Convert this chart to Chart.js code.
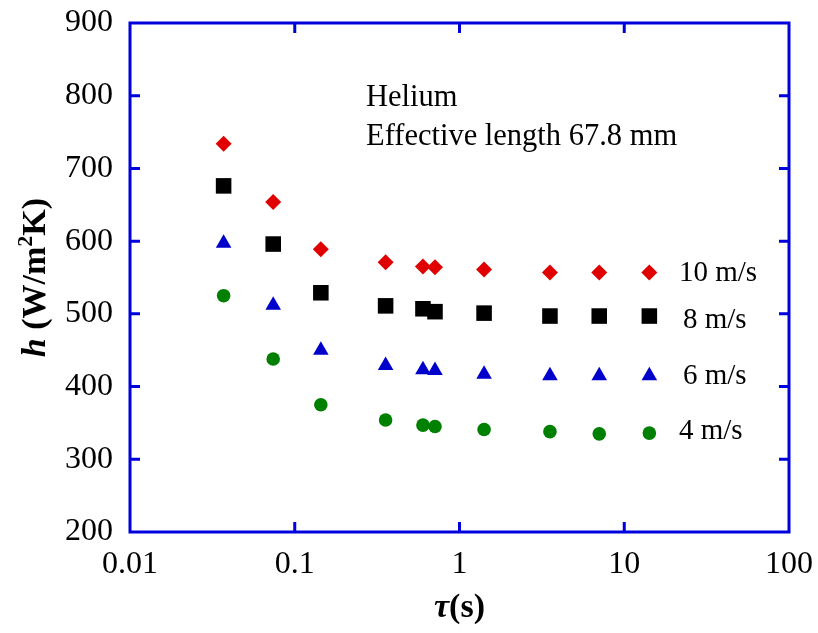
<!DOCTYPE html>
<html>
<head>
<meta charset="utf-8">
<script src="https://cdn.jsdelivr.net/npm/chart.js@4.4.1/dist/chart.umd.min.js"></script>
<style>
  html, body { margin: 0; padding: 0; background: #ffffff; }
  #wrap { width: 818px; height: 633px; position: relative; }
</style>
</head>
<body>
<div id="wrap"><canvas id="c" width="818" height="633"></canvas></div>
<script>
// ---- data ----
const tau = [0.037, 0.074, 0.144, 0.356, 0.6, 0.71, 1.41, 3.54, 7.05, 14.2];
const h10 = [734, 654, 589, 571, 565, 564, 561, 557, 557, 557];
const h8  = [676, 596, 529, 511, 507, 503, 501, 497, 497, 497];
const h6  = [597, 512, 450, 429, 423, 422, 417, 415, 415, 415];
const h4  = [525, 438, 375, 354, 347, 345, 341, 338, 335, 336];
const seriesLabels = ['10 m/s', '8 m/s', '6 m/s', '4 m/s'];
const xTicks = [0.01, 0.1, 1, 10, 100];
const yTicks = [200, 300, 400, 500, 600, 700, 800, 900];
const noteLines = ['Helium', 'Effective length 67.8 mm'];

const AXIS = '#0000dd';
const FONT = "'Liberation Serif', 'Times New Roman', serif";

function pts(ys) { return tau.map((t, i) => ({ x: t, y: ys[i] })); }

const framePlugin = {
  id: 'frame',
  beforeDatasetsDraw(chart) {
    const { ctx, chartArea: a, scales: { x, y } } = chart;
    ctx.save();
    ctx.strokeStyle = AXIS;
    ctx.lineWidth = 3;
    ctx.lineCap = 'butt';
    ctx.strokeRect(a.left, a.top, a.right - a.left, a.bottom - a.top);
    const TL = 10;
    ctx.beginPath();
    xTicks.slice(1, -1).forEach(v => {
      const px = x.getPixelForValue(v);
      ctx.moveTo(px, a.bottom); ctx.lineTo(px, a.bottom - TL);
      ctx.moveTo(px, a.top); ctx.lineTo(px, a.top + TL);
    });
    yTicks.slice(1, -1).forEach(v => {
      const py = y.getPixelForValue(v);
      ctx.moveTo(a.left, py); ctx.lineTo(a.left + TL, py);
      ctx.moveTo(a.right, py); ctx.lineTo(a.right - TL, py);
    });
    ctx.stroke();
    ctx.restore();
  },
  afterDraw(chart) {
    const { ctx, chartArea: a, scales: { x, y } } = chart;
    ctx.save();
    ctx.fillStyle = '#000';
    ctx.textBaseline = 'middle';
    ctx.textAlign = 'left';
    ctx.font = `30.5px ${FONT}`;
    // annotation
    const nx = a.left + 236;
    ctx.fillText(noteLines[0], nx, a.top + 75);
    ctx.fillText(noteLines[1], nx, a.top + 114);
    // series labels at the right of the last points
    const labelVals = [558, 493, 416, 341];
    const lx = [679, 683, 683, 679];
    ctx.font = `29px ${FONT}`;
    labelVals.forEach((v, i) => {
      ctx.fillText(seriesLabels[i], lx[i], y.getPixelForValue(v) + 1.5);
    });

    // y title (rotated)
    const cy = (a.top + a.bottom) / 2;
    ctx.save();
    ctx.translate(34, cy);
    ctx.rotate(-Math.PI / 2);
    const parts = [
      { t: 'h', f: `italic bold 34px ${FONT}`, dy: 0 },
      { t: ' (W/m', f: `bold 34px ${FONT}`, dy: 0 },
      { t: '2', f: `bold 22px ${FONT}`, dy: -13 },
      { t: 'K)', f: `bold 34px ${FONT}`, dy: 0 }
    ];
    let tw = 0;
    parts.forEach(p => { ctx.font = p.f; p.w = ctx.measureText(p.t).width; tw += p.w; });
    let cx = -tw / 2;
    ctx.textAlign = 'left';
    ctx.textBaseline = 'alphabetic';
    parts.forEach(p => { ctx.font = p.f; ctx.fillText(p.t, cx, 11 + p.dy); cx += p.w; });
    ctx.restore();

    // x title
    const xparts = [
      { t: 'τ', f: `italic bold 34px ${FONT}` },
      { t: '(s)', f: `bold 34px ${FONT}` }
    ];
    let xw = 0;
    xparts.forEach(p => { ctx.font = p.f; p.w = ctx.measureText(p.t).width; xw += p.w; });
    let sx = (a.left + a.right) / 2 - xw / 2;
    ctx.textBaseline = 'alphabetic';
    xparts.forEach(p => { ctx.font = p.f; ctx.fillText(p.t, sx, 617); sx += p.w; });
    ctx.restore();
  }
};

function zeroPad(s) { s.paddingTop = 0; s.paddingBottom = 0; s.paddingLeft = 0; s.paddingRight = 0; }

function build() {
  new Chart(document.getElementById('c'), {
    type: 'scatter',
    data: {
      datasets: [
        { label: seriesLabels[0], data: pts(h10), pointStyle: 'rectRot', radius: 8, backgroundColor: '#e00000', borderColor: '#e00000', borderWidth: 0 },
        { label: seriesLabels[1], data: pts(h8), pointStyle: 'rect', radius: 11, backgroundColor: '#000000', borderColor: '#000000', borderWidth: 0 },
        { label: seriesLabels[2], data: pts(h6), pointStyle: 'triangle', radius: 9, backgroundColor: '#0000cc', borderColor: '#0000cc', borderWidth: 0 },
        { label: seriesLabels[3], data: pts(h4), pointStyle: 'circle', radius: 6.8, backgroundColor: '#008000', borderColor: '#008000', borderWidth: 0 }
      ]
    },
    options: {
      responsive: false,
      animation: false,
      layout: { padding: { left: 0, right: 29, top: 23, bottom: 0 } },
      plugins: { legend: { display: false }, tooltip: { enabled: false } },
      scales: {
        x: {
          type: 'logarithmic', min: 0.01, max: 100,
          grid: { display: false, drawTicks: false },
          border: { display: false },
          afterBuildTicks: s => { s.ticks = xTicks.map(v => ({ value: v })); },
          afterFit: s => { s.height = 101; zeroPad(s); },
          ticks: {
            autoSkip: false, maxRotation: 0, padding: 13, color: '#000',
            font: { family: FONT, size: 32 },
            callback: v => String(v)
          }
        },
        y: {
          min: 200, max: 900,
          grid: { display: false, drawTicks: false },
          border: { display: false },
          afterBuildTicks: s => { s.ticks = yTicks.map(v => ({ value: v })); },
          afterFit: s => { s.width = 130; zeroPad(s); },
          ticks: {
            padding: 17, color: '#000',
            font: { family: FONT, size: 32 },
            callback: v => String(v)
          }
        }
      }
    },
    plugins: [framePlugin]
  });
}

Promise.all([
  document.fonts.load(`32px 'Liberation Serif'`),
  document.fonts.load(`bold 32px 'Liberation Serif'`),
  document.fonts.load(`italic bold 32px 'Liberation Serif'`)
]).then(build, build);
</script>
</body>
</html>
